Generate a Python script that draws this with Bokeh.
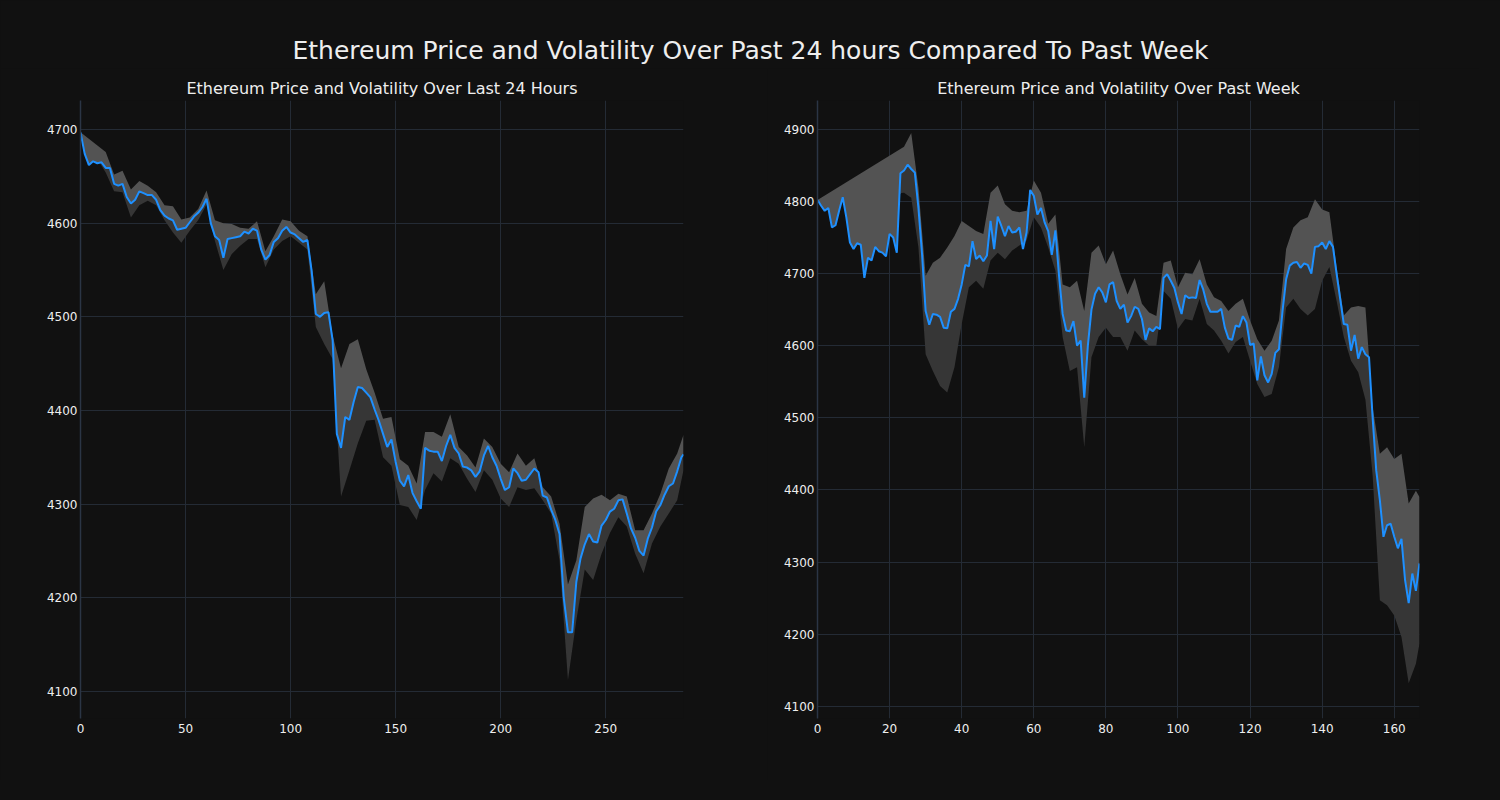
from bokeh.plotting import figure
from bokeh.layouts import column, row
from bokeh.models import Range1d, FixedTicker
from bokeh.core.properties import value
from bokeh.embed import file_html
from bokeh.resources import INLINE

# ---------------- data: last 24 hours (5-minute steps) ----------------
day_x = list(range(0, 287, 2)) + [287]
day_price = [
    4697, 4674, 4662, 4666, 4664, 4665, 4659, 4659, 4642, 4640,
    4642, 4628, 4621, 4625, 4634, 4632, 4630, 4630, 4625, 4614,
    4608, 4605, 4603, 4593, 4594, 4595, 4601, 4607, 4611, 4617,
    4626, 4600, 4586, 4582, 4563, 4583, 4584, 4585, 4586, 4591,
    4589, 4594, 4592, 4572, 4561, 4566, 4580, 4584, 4592, 4596,
    4590, 4588, 4584, 4580, 4582, 4549, 4503, 4500, 4504, 4505,
    4475, 4375, 4360, 4393, 4390, 4409, 4425, 4424, 4419, 4414,
    4401, 4389, 4375, 4361, 4369, 4345, 4325, 4319, 4331, 4312,
    4303, 4295, 4360, 4357, 4356, 4356, 4346, 4362, 4374, 4360,
    4354, 4340, 4339, 4336, 4329, 4335, 4352, 4362, 4350, 4341,
    4327, 4315, 4318, 4338, 4333, 4325, 4326, 4332, 4338, 4334,
    4309, 4307, 4294, 4283, 4268, 4200, 4163, 4163, 4217, 4242,
    4257, 4268, 4260, 4259, 4277, 4283, 4292, 4295, 4304, 4305,
    4290, 4274, 4264, 4250, 4245, 4263, 4275, 4292, 4299, 4310,
    4319, 4322, 4335, 4350, 4353,
]
day_band_x = [0] + list(range(12, 285, 4)) + [287]
day_upper = [
    4697, 4676, 4652, 4656, 4636, 4645, 4640, 4633, 4619, 4618,
    4604, 4606, 4615, 4635, 4603, 4600, 4599, 4595, 4594, 4602,
    4570, 4586, 4604, 4602, 4592, 4586, 4524, 4538, 4480, 4445,
    4471, 4476, 4444, 4419, 4391, 4393, 4348, 4341, 4322, 4377,
    4377, 4372, 4396, 4361, 4352, 4339, 4370, 4361, 4343, 4334,
    4354, 4341, 4349, 4318, 4308, 4279, 4214, 4240, 4297, 4306,
    4310, 4304, 4311, 4308, 4272, 4272, 4290, 4311, 4338, 4354,
    4374,
]
day_lower = [
    4697, 4654, 4634, 4633, 4606, 4619, 4624, 4619, 4603, 4590,
    4579, 4592, 4603, 4620, 4581, 4550, 4567, 4576, 4583, 4583,
    4553, 4572, 4581, 4586, 4579, 4572, 4489, 4471, 4455, 4308,
    4336, 4365, 4389, 4390, 4350, 4341, 4299, 4297, 4283, 4315,
    4333, 4324, 4349, 4343, 4327, 4313, 4336, 4326, 4306, 4297,
    4318, 4315, 4317, 4304, 4290, 4240, 4112, 4176, 4230, 4219,
    4247, 4269, 4286, 4276, 4247, 4226, 4258, 4276, 4290, 4304,
    4336,
]

# ---------------- data: past week (hourly steps) ----------------
week_x = list(range(168))
week_price = [
    4802, 4794, 4787, 4791, 4764, 4767, 4787, 4806, 4778, 4743,
    4734, 4742, 4740, 4694, 4722, 4718, 4737, 4731, 4729, 4724,
    4755, 4750, 4729, 4839, 4843, 4851, 4845, 4840, 4791, 4727,
    4648, 4629, 4644, 4643, 4640, 4625, 4624, 4647, 4651, 4665,
    4685, 4712, 4710, 4745, 4720, 4725, 4717, 4725, 4773, 4734,
    4779, 4766, 4752, 4766, 4757, 4758, 4764, 4734, 4757, 4816,
    4808, 4782, 4791, 4771, 4759, 4726, 4760, 4697, 4644, 4621,
    4620, 4634, 4600, 4607, 4528, 4600, 4650, 4672, 4681, 4674,
    4660, 4685, 4688, 4662, 4651, 4657, 4632, 4641, 4654, 4651,
    4637, 4608, 4624, 4620, 4626, 4623, 4694, 4699, 4690, 4680,
    4660, 4644, 4670, 4666, 4667, 4666, 4691, 4678, 4658, 4647,
    4647, 4647, 4651, 4625, 4610, 4608, 4628, 4626, 4641, 4632,
    4601, 4603, 4552, 4585, 4559, 4549, 4561, 4590, 4595, 4648,
    4692, 4711, 4715, 4716, 4708, 4714, 4712, 4700, 4737, 4738,
    4743, 4734, 4745, 4737, 4700, 4665, 4630, 4629, 4593, 4615,
    4582, 4598, 4588, 4584, 4500, 4427, 4386, 4335, 4351, 4353,
    4335, 4319, 4332, 4275, 4243, 4284, 4260, 4298,
]
week_band_x = [0] + list(range(24, 167, 2)) + [167]
week_upper = [
    4802, 4876, 4895, 4819, 4697, 4715, 4722, 4736, 4752, 4773,
    4766, 4759, 4755, 4812, 4822, 4796, 4787, 4785, 4787, 4829,
    4812, 4769, 4782, 4685, 4681, 4690, 4648, 4729, 4739, 4713,
    4732, 4699, 4671, 4694, 4658, 4646, 4641, 4715, 4718, 4681,
    4701, 4699, 4720, 4685, 4667, 4662, 4648, 4658, 4665, 4635,
    4609, 4593, 4607, 4635, 4734, 4764, 4774, 4778, 4803, 4789,
    4785, 4709, 4642, 4653, 4655, 4653, 4515, 4450, 4459, 4443,
    4450, 4381, 4399, 4390,
]
week_lower = [
    4802, 4812, 4805, 4736, 4588, 4565, 4544, 4535, 4570, 4630,
    4681, 4690, 4679, 4718, 4729, 4720, 4732, 4739, 4746, 4778,
    4764, 4736, 4704, 4612, 4565, 4570, 4459, 4584, 4612, 4625,
    4612, 4612, 4593, 4621, 4609, 4600, 4600, 4676, 4665, 4623,
    4637, 4635, 4665, 4630, 4621, 4607, 4589, 4605, 4612, 4579,
    4547, 4529, 4533, 4570, 4653, 4665, 4651, 4642, 4651, 4690,
    4709, 4662, 4612, 4579, 4563, 4525, 4420, 4247, 4240, 4226,
    4196, 4132, 4159, 4187,
]

day_xticks = [0, 50, 100, 150, 200, 250]
day_yticks = [4100, 4200, 4300, 4400, 4500, 4600, 4700]
week_xticks = [0, 20, 40, 60, 80, 100, 120, 140, 160]
week_yticks = [4100, 4200, 4300, 4400, 4500, 4600, 4700, 4800, 4900]

MAIN_TITLE = "Ethereum Price and Volatility Over Past 24 hours Compared To Past Week"
DAY_TITLE = "Ethereum Price and Volatility Over Last 24 Hours"
WEEK_TITLE = "Ethereum Price and Volatility Over Past Week"

# ---------------- styles ----------------
BG = "#111111"
FONT = "DejaVu Sans"
GRID = "#242b35"
SPINE = "#2b3545"
LIGHT = "#535353"
DARK = "#363636"
LINE = "#1e90ff"
TXT = "#eeeeee"


def make_panel(title, xs, price, bx, upper, lower, xr, yr, xticks, yticks,
               fw, ml, mr):
    p = figure(output_backend="svg", toolbar_location=None,
               frame_width=fw, frame_height=618,
               min_border_left=ml, min_border_right=mr,
               min_border_top=32, min_border_bottom=62,
               x_range=Range1d(*xr), y_range=Range1d(*yr),
               background_fill_color=BG, border_fill_color=BG)
    p.outline_line_color = None
    p.title.text = title
    p.title.align = "center"
    p.title.text_color = TXT
    p.title.text_font = FONT
    p.title.text_font_size = "16px"
    p.title.text_font_style = "normal"
    p.title.standoff = 5
    # band: lower part (dark) then upper part (light)
    p.patch(list(bx) + list(xs)[::-1], list(lower) + list(price)[::-1],
            fill_color=DARK, line_color=None)
    p.patch(list(bx) + list(xs)[::-1], list(upper) + list(price)[::-1],
            fill_color=LIGHT, line_color=None)
    p.line(xs, price, line_color=LINE, line_width=2)
    for ax in (p.xaxis[0], p.yaxis[0]):
        ax.major_tick_line_color = None
        ax.minor_tick_line_color = None
        ax.major_tick_out = 0
        ax.major_tick_in = 0
        ax.minor_tick_out = 0
        ax.minor_tick_in = 0
        ax.major_label_text_color = TXT
        ax.major_label_text_font = FONT
        ax.major_label_text_font_size = "12px"
    p.xaxis[0].ticker = FixedTicker(ticks=xticks)
    p.yaxis[0].ticker = FixedTicker(ticks=yticks)
    p.xaxis[0].axis_line_color = None
    p.yaxis[0].axis_line_color = SPINE
    p.yaxis[0].axis_line_width = 1.5
    p.xaxis[0].major_label_standoff = 5
    p.yaxis[0].major_label_standoff = 3
    p.xgrid.ticker = FixedTicker(ticks=xticks)
    p.ygrid.ticker = FixedTicker(ticks=yticks)
    p.xgrid.grid_line_color = GRID
    p.ygrid.grid_line_color = GRID
    p.xgrid.grid_line_width = 1
    p.ygrid.grid_line_width = 1
    return p


left = make_panel(DAY_TITLE, day_x, day_price, day_band_x, day_upper, day_lower,
                  (0, 287), (4071, 4731), day_xticks, day_yticks, 603, 80, 84)
right = make_panel(WEEK_TITLE, week_x, week_price, week_band_x, week_upper, week_lower,
                   (0, 167), (4083, 4940), week_xticks, week_yticks, 602, 50, 60)

head = figure(output_backend="svg", toolbar_location=None, width=1500, height=68,
              x_range=Range1d(0, 1), y_range=Range1d(0, 1),
              background_fill_color=BG, border_fill_color=BG, min_border=0)
head.axis.visible = False
head.grid.visible = False
head.outline_line_color = None
head.text(x=[0.5], y=[0.265], text=[MAIN_TITLE], text_align="center",
          text_baseline="middle", text_color=TXT, text_font=value(FONT),
          text_font_size="25px")

layout = column(head, row(left, right, spacing=0), spacing=0,
                styles={"background-color": BG})
html = file_html(layout, INLINE)
html = html.replace("<body>", '<body style="background-color:#111111;">')
open("out.html", "w").write(html)
